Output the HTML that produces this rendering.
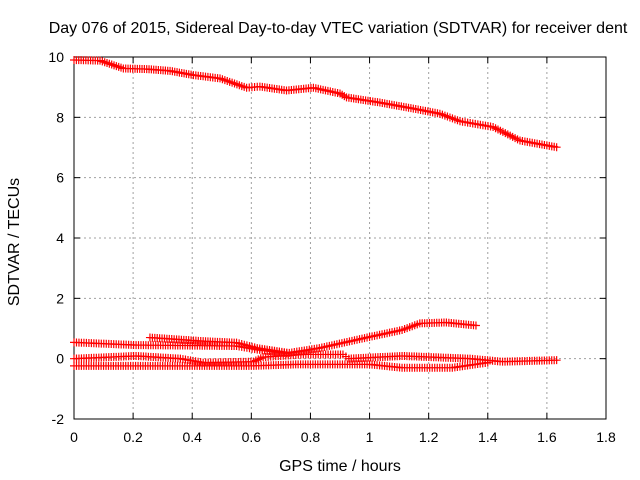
<!DOCTYPE html>
<html><head><meta charset="utf-8"><style>
body{margin:0;background:#fff}
svg{display:block;font-family:"Liberation Sans",sans-serif}
</style></head><body>
<svg id="chart" width="640" height="480">
<rect width="640" height="480" fill="#fff"/>
<text x="338" y="33" font-size="16" text-anchor="middle">Day 076 of 2015, Sidereal Day-to-day VTEC variation (SDTVAR) for receiver dent</text>
<text x="340" y="471" font-size="16" text-anchor="middle">GPS time / hours</text>
<text transform="translate(19,242) rotate(-90)" font-size="16" text-anchor="middle">SDTVAR / TECUs</text>
<g id="grid"></g><g id="axes"></g><g id="marks"></g>
</svg>
<script>
const xTicks=[0,0.2,0.4,0.6,0.8,1,1.2,1.4,1.6,1.8];
const xTickLabels=["0","0.2","0.4","0.6","0.8","1","1.2","1.4","1.6","1.8"];
const yTicks=[-2,0,2,4,6,8,10];
const yTickLabels=["-2","0","2","4","6","8","10"];
const topT=[0,0.088,0.167,0.246,0.325,0.404,0.494,0.584,0.629,0.719,0.81,0.9,0.922,1.035,1.148,1.238,1.306,1.418,1.509,1.633];
const topV=[9.9,9.88,9.62,9.6,9.54,9.4,9.29,8.98,9.02,8.89,8.98,8.79,8.66,8.49,8.29,8.12,7.87,7.68,7.23,7.01];
const bT=[0,0.21,0.55,0.62,0.72,0.83,1.0,1.11,1.17,1.26,1.36];
const bV=[0.54,0.45,0.42,0.3,0.18,0.35,0.72,0.95,1.17,1.2,1.1];
const cT=[0.257,0.437,0.55,0.62,0.72];
const cV=[0.7,0.58,0.53,0.35,0.2];
const dT=[0,0.21,0.36,0.437,0.607,0.64,0.776,0.91,0.93,1.11,1.34,1.45,1.633];
const dV=[0,0.09,0,-0.13,-0.1,0.05,0.14,0.14,0,0.09,0,-0.1,-0.05];
const eT=[0,0.6,0.75,1.0,1.11,1.28,1.4];
const eV=[-0.24,-0.24,-0.19,-0.19,-0.3,-0.3,-0.13];
const NS="http://www.w3.org/2000/svg";
const X0=74,X1=606,Y0=419,Y1=57;
const xs=t=>X0+(t-0)/(1.8-0)*(X1-X0);
const ys=v=>Y0-(v+2)/12*(Y0-Y1);
function mk(tag,attrs,parent){const e=document.createElementNS(NS,tag);for(const k in attrs)e.setAttribute(k,attrs[k]);parent.appendChild(e);return e;}
const grid=document.getElementById('grid'),axes=document.getElementById('axes'),marks=document.getElementById('marks');
xTicks.forEach((t,i)=>{
 const x=xs(t);
 if(i>0&&i<xTicks.length-1){const g=mk('line',{x1:x,x2:x,y1:Y1,y2:Y0,stroke:'#a0a0a0','stroke-dasharray':'2,3'},grid);
 
 }
 mk('line',{x1:x,x2:x,y1:Y0,y2:Y0-6,stroke:'#000'},axes);
 mk('line',{x1:x,x2:x,y1:Y1,y2:Y1+6,stroke:'#000'},axes);
 const l=mk('text',{x:x,y:442,'font-size':14,'text-anchor':'middle'},axes);l.textContent=xTickLabels[i];
 
 
});
yTicks.forEach((v,i)=>{
 const y=ys(v);
 if(i>0&&i<yTicks.length-1){const g=mk('line',{x1:X0,x2:X1,y1:y,y2:y,stroke:'#a0a0a0','stroke-dasharray':'2,3'},grid);
 
 }
 mk('line',{x1:X0,x2:X0+6,y1:y,y2:y,stroke:'#000'},axes);
 mk('line',{x1:X1,x2:X1-6,y1:y,y2:y,stroke:'#000'},axes);
 const l=mk('text',{x:X0-10,y:y+5,'font-size':14,'text-anchor':'end'},axes);l.textContent=yTickLabels[i];
 
 
});
const frame=mk('rect',{x:X0,y:Y1,width:X1-X0,height:Y0-Y1,fill:'none',stroke:'#000'},axes);


function series(T,V,name){
 const g=mk('g',{stroke:'#f00','stroke-width':1.2,fill:'none'},marks);
 
 
 let d='';
 for(let i=0;i<T.length-1;i++){
  const n=Math.max(1,Math.round((T[i+1]-T[i])/0.0083));
  for(let k=0;k<n;k++){const f=k/n,t=T[i]+(T[i+1]-T[i])*f,v=V[i]+(V[i+1]-V[i])*f;
   const x=xs(t),y=ys(v);d+=`M${x-4},${y}h8M${x},${y-4}v8`;}
 }
 const x=xs(T[T.length-1]),y=ys(V[V.length-1]);d+=`M${x-4},${y}h8M${x},${y-4}v8`;
 mk('path',{d:d},g);
}
series(topT,topV,'series-upper');
series(bT,bV,'series-b');
series(cT,cV,'series-c');
series(dT,dV,'series-d');
series(eT,eV,'series-e');
</script>
</body></html>
